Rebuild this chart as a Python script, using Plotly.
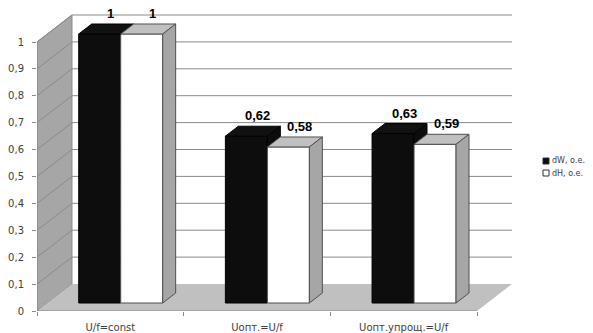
import plotly.graph_objects as go

# ---- data ----
categories = ["U/f=const", "Uопт.=U/f", "Uопт.упрощ.=U/f"]
dW = [1.0, 0.62, 0.63]
dH = [1.0, 0.58, 0.59]
series_names = ["dW, о.е.", "dH, о.е."]
y_ticks = [0, 0.1, 0.2, 0.3, 0.4, 0.5, 0.6, 0.7, 0.8, 0.9, 1]
y_tick_text = ["0", "0,1", "0,2", "0,3", "0,4", "0,5", "0,6", "0,7", "0,8", "0,9", "1"]

# ---- pseudo-3D geometry (axis units) ----
W, H = 593, 333
ML, MB = 37, 22
PX_X = 146.67          # pixels per category
PX_Y = 269.0           # pixels per value unit
WALL_DX = 35 / PX_X    # depth offset of back wall
WALL_DY = 27 / PX_Y
Z0, Z1 = 8 / 27, 18 / 27   # front / back of bars as fraction of depth
BAR_W = 42 / PX_X
zdx, zdy = Z0 * WALL_DX, Z0 * WALL_DY
ddx, ddy = (Z1 - Z0) * WALL_DX, (Z1 - Z0) * WALL_DY
X0, X1 = -0.5, len(categories) - 0.5

GRID = "#8a8a8a"
FONT = "DejaVu Sans"


def fmt(v):
    return f"{v:g}".replace(".", ",")


def poly(pts):
    return "M " + " L ".join(f"{x},{y}" for x, y in pts) + " Z"


fig = go.Figure()

# front faces of the columns
fig.add_trace(go.Bar(
    x=categories, y=dW, base=zdy, offset=zdx - BAR_W, width=BAR_W,
    marker=dict(color="#0d0d0d", line=dict(color="#000000", width=1)),
    name=series_names[0], showlegend=False, hoverinfo="skip"))
fig.add_trace(go.Bar(
    x=categories, y=dH, base=zdy, offset=zdx, width=BAR_W,
    marker=dict(color="#ffffff", line=dict(color="#505050", width=1)),
    name=series_names[1], showlegend=False, hoverinfo="skip"))

shapes = []
# left wall
shapes.append(dict(type="path", layer="below", xref="x", yref="y",
                   path=poly([(X0, 0), (X0, 1), (X0 + WALL_DX, 1 + WALL_DY), (X0 + WALL_DX, WALL_DY)]),
                   fillcolor="#a6a6a6", line=dict(color=GRID, width=1)))
# floor
shapes.append(dict(type="path", layer="below", xref="x", yref="y",
                   path=poly([(X0, 0), (X1, 0), (X1 + WALL_DX, WALL_DY), (X0 + WALL_DX, WALL_DY)]),
                   fillcolor="#c0c0c0", line=dict(width=0)))
# gridlines on walls
for v in y_ticks[1:]:
    shapes.append(dict(type="line", layer="below", xref="x", yref="y",
                       x0=X0, y0=v, x1=X0 + WALL_DX, y1=v + WALL_DY,
                       line=dict(color=GRID, width=1)))
    shapes.append(dict(type="line", layer="below", xref="x", yref="y",
                       x0=X0 + WALL_DX, y0=v + WALL_DY, x1=X1 + WALL_DX, y1=v + WALL_DY,
                       line=dict(color=GRID, width=1)))
# axis lines
shapes.append(dict(type="line", layer="below", xref="x", yref="y",
                   x0=X0, y0=0, x1=X1, y1=0, line=dict(color=GRID, width=1)))
shapes.append(dict(type="line", layer="below", xref="x", yref="y",
                   x0=X0, y0=0, x1=X0, y1=1, line=dict(color=GRID, width=1)))

annotations = []
for i, (vb, vw) in enumerate(zip(dW, dH)):
    xb0 = i + zdx - BAR_W
    xb1 = i + zdx
    xw1 = i + zdx + BAR_W
    tb = zdy + vb
    tw = zdy + vw
    # visible part of the black column's side above the white column
    if vb > vw:
        shapes.append(dict(type="path", xref="x", yref="y",
                           path=poly([(xb1, tw), (xb1, tb), (xb1 + ddx, tb + ddy), (xb1 + ddx, tw + ddy)]),
                           fillcolor="#0d0d0d", line=dict(color="#000000", width=1)))
    # black top
    shapes.append(dict(type="path", xref="x", yref="y",
                       path=poly([(xb0, tb), (xb1, tb), (xb1 + ddx, tb + ddy), (xb0 + ddx, tb + ddy)]),
                       fillcolor="#111111", line=dict(color="#000000", width=1)))
    # white top
    shapes.append(dict(type="path", xref="x", yref="y",
                       path=poly([(xb1, tw), (xw1, tw), (xw1 + ddx, tw + ddy), (xb1 + ddx, tw + ddy)]),
                       fillcolor="#c0c0c0", line=dict(color="#505050", width=1)))
    # white side
    shapes.append(dict(type="path", xref="x", yref="y",
                       path=poly([(xw1, zdy), (xw1, tw), (xw1 + ddx, tw + ddy), (xw1 + ddx, zdy + ddy)]),
                       fillcolor="#a6a6a6", line=dict(color="#505050", width=1)))
    # value labels
    for xc, top, v in ((xb0 + BAR_W / 2, tb, vb), (xb1 + BAR_W / 2, tw, vw)):
        annotations.append(dict(x=xc + ddx * 0.85, y=top + ddy, xref="x", yref="y",
                                text=f"<b>{fmt(v)}</b>", showarrow=False,
                                yanchor="bottom", yshift=1,
                                font=dict(family="Liberation Sans, Arial", size=13, color="#000000")))

# legend
leg_x0 = 543
for k, (name, fill) in enumerate(zip(series_names, ["#0d0d0d", "#ffffff"])):
    yc = 161 + 12 * k
    shapes.append(dict(type="rect", xref="paper", yref="paper",
                       x0=(leg_x0 - ML) / (W - ML), x1=(leg_x0 + 6 - ML) / (W - ML),
                       y0=(H - MB - (yc + 3)) / (H - MB), y1=(H - MB - (yc - 3)) / (H - MB),
                       fillcolor=fill, line=dict(color="#303030", width=1)))
    annotations.append(dict(x=(leg_x0 + 7 - ML) / (W - ML), y=(H - MB - yc) / (H - MB),
                            xref="paper", yref="paper", text=name, showarrow=False,
                            xanchor="left", yanchor="middle",
                            font=dict(family=FONT, size=8, color="#404040")))

fig.update_layout(
    width=W, height=H,
    margin=dict(l=ML, r=0, t=0, b=MB),
    paper_bgcolor="#ffffff", plot_bgcolor="#ffffff",
    barmode="overlay",
    showlegend=False,
    shapes=shapes,
    annotations=annotations,
    xaxis=dict(type="category", categoryarray=categories,
               range=[X0, X0 + (W - ML) / PX_X],
               showgrid=False, zeroline=False, showline=False,
               ticks="outside", tickson="boundaries", ticklen=4, tickcolor=GRID,
               ticklabelstandoff=9,
               tickfont=dict(family=FONT, size=10, color="#404040")),
    yaxis=dict(range=[0, (H - MB) / PX_Y],
               tickvals=y_ticks, ticktext=y_tick_text,
               showgrid=False, zeroline=False, showline=False,
               ticks="outside", ticklen=4, tickcolor=GRID,
               ticklabelstandoff=6,
               tickfont=dict(family=FONT, size=10, color="#404040")),
)

fig.write_html("out.html")
